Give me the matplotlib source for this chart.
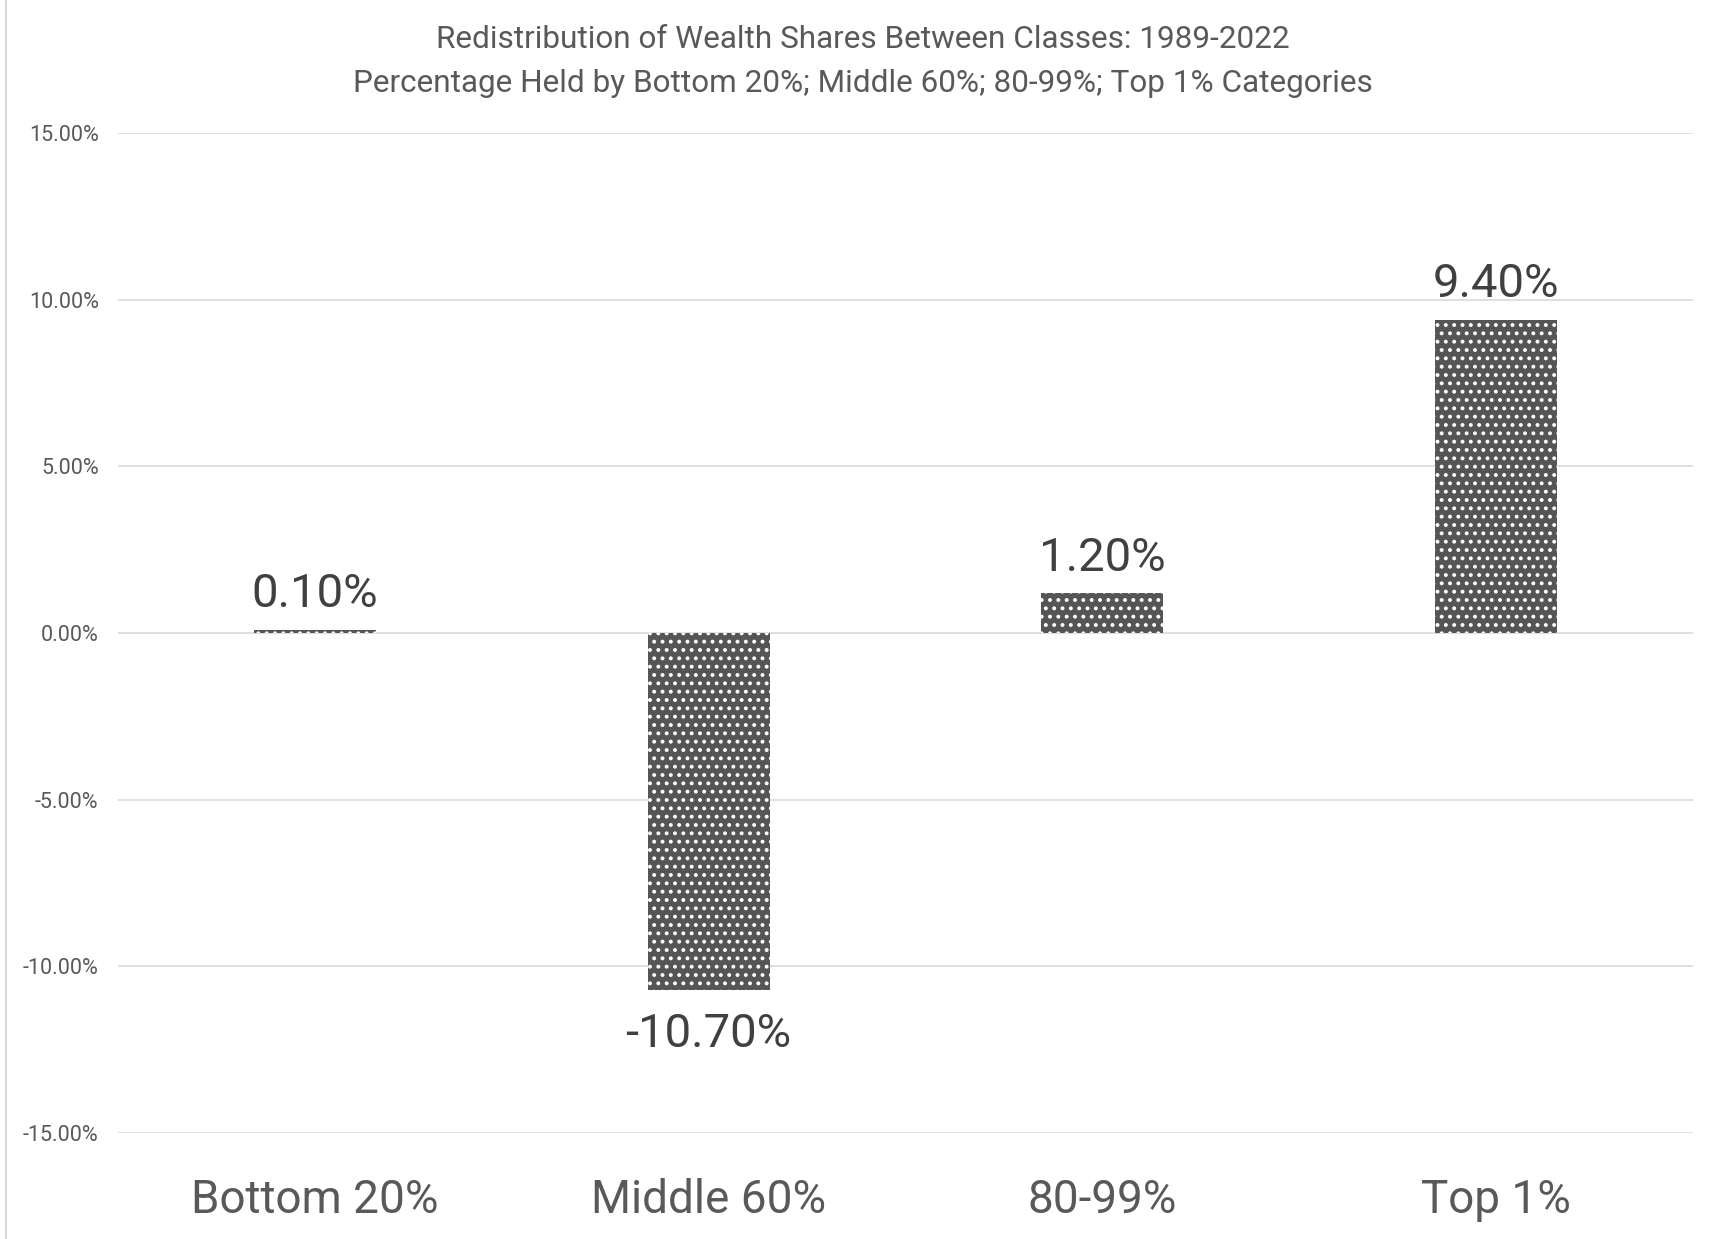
import numpy as np
import matplotlib.pyplot as plt
from matplotlib.lines import Line2D
from matplotlib.ticker import FuncFormatter

plt.rcParams['font.family'] = ['Roboto', 'DejaVu Sans']
plt.rcParams['hatch.color'] = 'white'
plt.rcParams['hatch.linewidth'] = 1.6

categories = ["Bottom 20%", "Middle 60%", "80-99%", "Top 1%"]
shares = [0.10, -10.70, 1.20, 9.40]     # zmiana udzialu w procentach
yticks = [-15, -10, -5, 0, 5, 10, 15]

title1 = "Redistribution of Wealth Shares Between Classes: 1989-2022"
title2 = "Percentage Held by Bottom 20%; Middle 60%; 80-99%; Top 1% Categories"

fig = plt.figure(figsize=(17.16, 12.39), dpi=100)
ax = fig.add_axes([0.0688, 0.0856, 0.9178, 0.8071])

x = np.arange(len(categories))
bars = ax.bar(x, shares, width=0.31, color='#555555', hatch='..', zorder=3)

ax.set_xlim(-0.5, len(categories) - 0.5)
ax.set_ylim(-15, 15)
ax.set_yticks(yticks)
ax.yaxis.set_major_formatter(FuncFormatter(lambda v, p: f"{v:.2f}%"))
ax.grid(axis='y', color='#d9d9d9', linewidth=1.2, zorder=0)
for s in ax.spines.values():
    s.set_visible(False)
ax.tick_params(axis='y', length=0, pad=14, labelsize=15.5, labelcolor='#595959')
ax.set_xticks([])

# podpisy kategorii pod wykresem
for xi, name in zip(x, categories):
    ax.text(xi, -17.0, name, ha='center', va='center', fontsize=33,
            color='#595959', clip_on=False)

# wartosci nad/pod slupkami
for xi, v in zip(x, shares):
    off = 25.5 if v >= 0 else -32
    ax.annotate(f"{v:.2f}%", (xi, v), xytext=(0, off), textcoords='offset points',
                ha='center', va='center', fontsize=34, color='#404040')

fig.text(863 / 1716, 1 - 40 / 1239, title1, ha='center', va='center',
         fontsize=22.7, color='#595959')
fig.text(863 / 1716, 1 - 84 / 1239, title2, ha='center', va='center',
         fontsize=22.7, color='#595959')

fig.add_artist(Line2D([6 / 1716, 6 / 1716], [0, 1], transform=fig.transFigure,
                      color='#d9d9d9', linewidth=1.5))

fig.savefig("out.png", dpi=100)
